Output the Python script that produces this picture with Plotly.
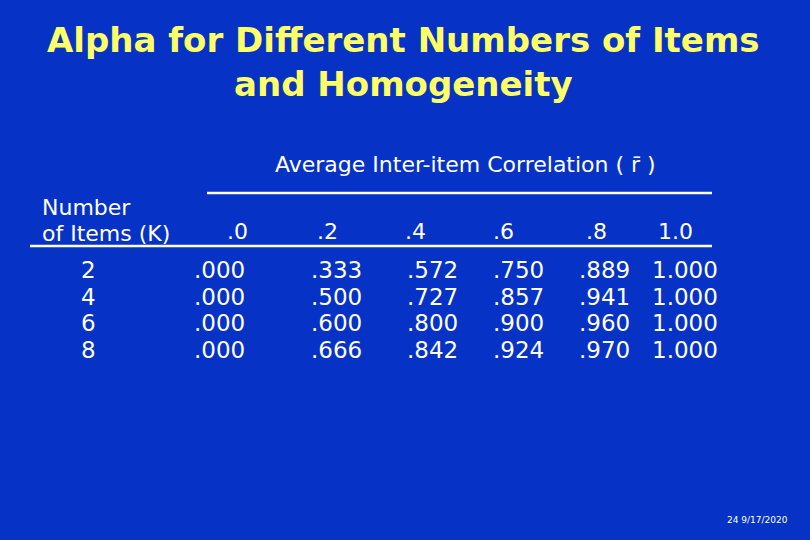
import plotly.graph_objects as go

correlations = [".0", ".2", ".4", ".6", ".8", "1.0"]
items = ["2", "4", "6", "8"]
alpha = [
    [".000", ".333", ".572", ".750", ".889", "1.000"],
    [".000", ".500", ".727", ".857", ".941", "1.000"],
    [".000", ".600", ".800", ".900", ".960", "1.000"],
    [".000", ".666", ".842", ".924", ".970", "1.000"],
]

BG = "#0633c6"
FONT = "DejaVu Sans"
fig = go.Figure()
ann = []
def t(x, y, s, size=20, color="white", xa="center", bold=False, fam=FONT):
    ann.append(dict(x=x, y=y, text=("<b>%s</b>" % s if bold else s), showarrow=False,
                    xref="x", yref="y", xanchor=xa, yanchor="middle",
                    font=dict(size=size, color=color, family=fam)))

t(403, 40, "Alpha for Different Numbers of Items", 34, "#ffff66", bold=True)
t(403, 84, "and Homogeneity", 34, "#ffff66", bold=True)
t(465, 164, "Average Inter-item Correlation ( r\u0304 )", 22)
t(40, 207, "Number", 22, xa="left")
t(40, 233, "of Items (K)", 22, xa="left")
hx = [237, 327, 415, 503, 596, 675]
for x, c in zip(hx, correlations):
    t(x, 231, c, 22)
vx = [247, 364, 460, 546, 632, 720]
ry = [270, 297, 323, 350]
for r, (k, row) in enumerate(zip(items, alpha)):
    t(98, ry[r], k, 23, xa="right")
    for x, v in zip(vx, row):
        t(x, ry[r], v, 23, xa="right")
t(790, 520, "24 9/17/2020", 9, xa="right")

fig.update_layout(
    width=810, height=540, margin=dict(l=0, r=0, t=0, b=0),
    paper_bgcolor=BG, plot_bgcolor=BG, annotations=ann,
    xaxis=dict(range=[0, 810], visible=False, fixedrange=True),
    yaxis=dict(range=[540, 0], visible=False, fixedrange=True),
    shapes=[
        dict(type="line", x0=207, x1=712, y0=193, y1=193, line=dict(color="white", width=2.5)),
        dict(type="line", x0=30, x1=712, y0=246, y1=246, line=dict(color="white", width=2.5)),
    ],
)
fig.write_html("out.html", config={"displayModeBar": False},
               post_script="document.body.style.margin='0';document.body.style.background='%s';document.body.style.overflow='hidden';" % BG)
